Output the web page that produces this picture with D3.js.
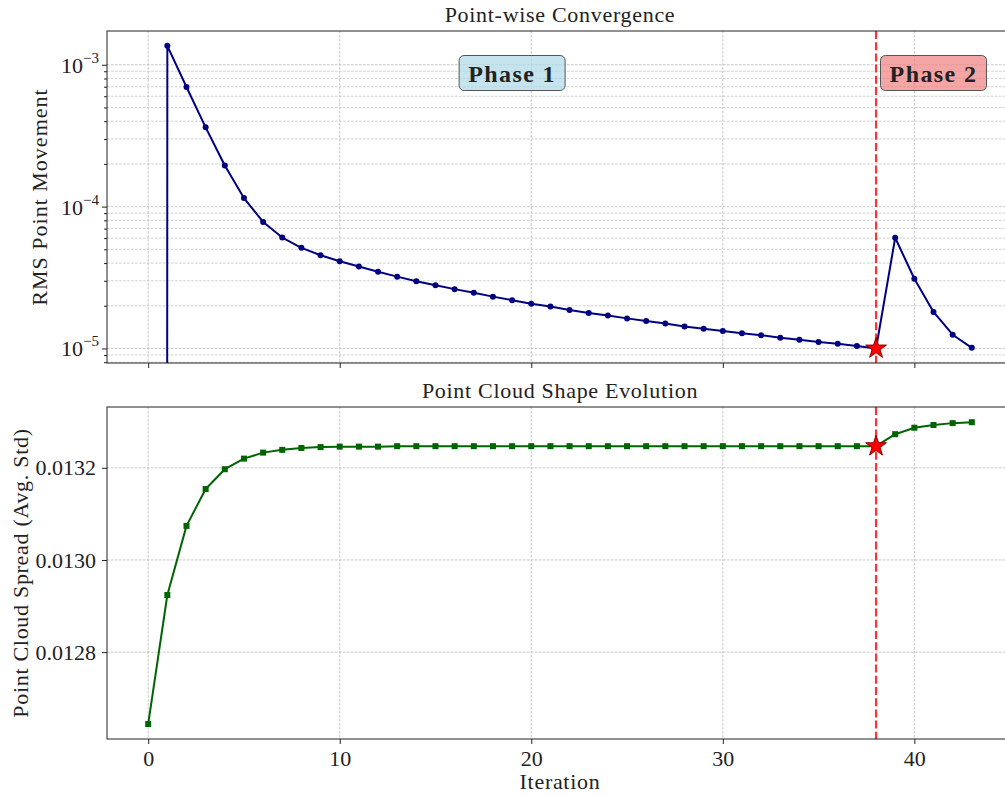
<!DOCTYPE html>
<html>
<head>
<meta charset="utf-8">
<script src="https://cdn.jsdelivr.net/npm/d3@7"></script>
<style>
  body { margin: 0; background: #fff; }
  svg text { font-family: "Liberation Serif", "DejaVu Serif", serif; fill: #222; }
  .label { letter-spacing: 0.7px; }
</style>
</head>
<body>
<svg id="chart" width="1005" height="796"></svg>
<script>
// Iteration index shared by both panels
const iterations = [0,1,2,3,4,5,6,7,8,9,10,11,12,13,14,15,16,17,18,19,20,21,
  22,23,24,25,26,27,28,29,30,31,32,33,34,35,36,37,38,39,40,41,42,43];

// RMS movement of the points per iteration (first step has no movement)
const rmsMovement = [0, 1.36e-3, 6.97e-4, 3.62e-4, 1.95e-4, 1.15e-4, 7.8e-5, 6.05e-5,
  5.12e-5, 4.54e-5, 4.12e-5, 3.78e-5, 3.47e-5, 3.21e-5, 2.98e-5, 2.79e-5, 2.62e-5,
  2.47e-5, 2.32e-5, 2.19e-5, 2.07e-5, 1.98e-5, 1.87e-5, 1.78e-5, 1.71e-5, 1.63e-5,
  1.56e-5, 1.50e-5, 1.43e-5, 1.38e-5, 1.33e-5, 1.28e-5, 1.24e-5, 1.19e-5, 1.15e-5,
  1.11e-5, 1.08e-5, 1.04e-5, 1.00e-5, 6.03e-5, 3.10e-5, 1.81e-5, 1.25e-5, 1.01e-5];

// Average standard deviation of the point cloud per iteration
const cloudSpread = [0.012644, 0.012924, 0.013074, 0.013154, 0.013197, 0.013220,
  0.013233, 0.013239, 0.013243, 0.013245, 0.013246, 0.013246, 0.013246, 0.013247,
  0.013247, 0.013247, 0.013247, 0.013247, 0.013247, 0.013247, 0.013247, 0.013247,
  0.013247, 0.013247, 0.013247, 0.013247, 0.013247, 0.013247, 0.013247, 0.013247,
  0.013247, 0.013247, 0.013247, 0.013247, 0.013247, 0.013247, 0.013247, 0.013247,
  0.013247, 0.013273, 0.013287, 0.013293, 0.013297, 0.013299];

// Iteration where the second phase starts
const phaseSwitch = 38;

const xTickValues = [0, 10, 20, 30, 40];
const rmsTickExponents = [-5, -4, -3];
const spreadTickValues = [0.0128, 0.0130, 0.0132];

const phaseNames = ["Phase 1", "Phase 2"];
const phaseCenters = [19, 41];
const phaseFills = ["#add8e6", "#f08080"];

// ---- layout ----
const L = 107, R = 1013;
const top1 = 31, bot1 = 363;
const top2 = 407, bot2 = 739;

const svg = d3.select("#chart");
const defs = svg.append("defs");

const x = d3.scaleLinear().domain([-2.15, 45.15]).range([L, R]);
const yTop = d3.scaleLog().domain([7.9e-6, 1.73e-3]).range([bot1, top1]);
const yBot = d3.scaleLinear().domain([0.0126115, 0.013332]).range([bot2, top2]);

defs.append("clipPath").attr("id", "clipTop")
  .append("rect").attr("x", L).attr("y", top1).attr("width", R - L).attr("height", bot1 - top1);
defs.append("clipPath").attr("id", "clipBot")
  .append("rect").attr("x", L).attr("y", top2).attr("width", R - L).attr("height", bot2 - top2);

const gridColor = "#b8b8b8";
const gridDash = "2.6,1.4";

// ---- top panel: grid ----
const gTop = svg.append("g");
const majorRms = rmsTickExponents.map(e => Math.pow(10, e));
const minorRms = [];
[-6, -5, -4, -3].forEach(e => {
  for (let k = 2; k <= 9; k++) {
    const v = k * Math.pow(10, e);
    if (v >= yTop.domain()[0] && v <= yTop.domain()[1]) minorRms.push(v);
  }
});

gTop.selectAll("line.hminor").data(minorRms).join("line")
  .attr("x1", L).attr("x2", R)
  .attr("y1", d => yTop(d)).attr("y2", d => yTop(d))
  .attr("stroke", gridColor).attr("stroke-width", 0.8)
  .attr("stroke-dasharray", gridDash).attr("opacity", 0.8);
gTop.selectAll("line.hmajor").data(majorRms).join("line")
  .attr("x1", L).attr("x2", R)
  .attr("y1", d => yTop(d)).attr("y2", d => yTop(d))
  .attr("stroke", gridColor).attr("stroke-width", 0.8)
  .attr("stroke-dasharray", gridDash);
gTop.selectAll("line.vgrid").data(xTickValues).join("line")
  .attr("x1", d => x(d)).attr("x2", d => x(d))
  .attr("y1", top1).attr("y2", bot1)
  .attr("stroke", gridColor).attr("stroke-width", 0.8)
  .attr("stroke-dasharray", gridDash);

// ---- bottom panel: grid ----
const gBot = svg.append("g");
gBot.selectAll("line.hgrid").data(spreadTickValues).join("line")
  .attr("x1", L).attr("x2", R)
  .attr("y1", d => yBot(d)).attr("y2", d => yBot(d))
  .attr("stroke", gridColor).attr("stroke-width", 0.8)
  .attr("stroke-dasharray", gridDash);
gBot.selectAll("line.vgrid").data(xTickValues).join("line")
  .attr("x1", d => x(d)).attr("x2", d => x(d))
  .attr("y1", top2).attr("y2", bot2)
  .attr("stroke", gridColor).attr("stroke-width", 0.8)
  .attr("stroke-dasharray", gridDash);

// ---- phase switch markers (dashed red) ----
[[top1, bot1], [top2, bot2]].forEach(([t, b]) => {
  svg.append("line")
    .attr("x1", x(phaseSwitch)).attr("x2", x(phaseSwitch))
    .attr("y1", t).attr("y2", b)
    .attr("stroke", "red").attr("stroke-opacity", 0.8)
    .attr("stroke-width", 2.2).attr("stroke-dasharray", "8,3.2");
});

// ---- top panel: data ----
const rmsData = iterations.map((it, i) => ({ it, v: rmsMovement[i] }));
const topPlot = svg.append("g").attr("clip-path", "url(#clipTop)");
topPlot.append("path")
  .datum(rmsData)
  .attr("fill", "none").attr("stroke", "navy").attr("stroke-width", 2)
  .attr("stroke-linejoin", "round")
  .attr("d", d3.line().x(d => x(d.it)).y(d => yTop(Math.max(d.v, 1e-300))));
topPlot.selectAll("circle").data(rmsData.filter(d => d.v > 0)).join("circle")
  .attr("cx", d => x(d.it)).attr("cy", d => yTop(d.v)).attr("r", 3)
  .attr("fill", "navy");

// ---- bottom panel: data ----
const spreadData = iterations.map((it, i) => ({ it, v: cloudSpread[i] }));
const botPlot = svg.append("g").attr("clip-path", "url(#clipBot)");
botPlot.append("path")
  .datum(spreadData)
  .attr("fill", "none").attr("stroke", "darkgreen").attr("stroke-width", 2)
  .attr("stroke-linejoin", "round")
  .attr("d", d3.line().x(d => x(d.it)).y(d => yBot(d.v)));
botPlot.selectAll("rect").data(spreadData).join("rect")
  .attr("x", d => x(d.it) - 3).attr("y", d => yBot(d.v) - 3)
  .attr("width", 6).attr("height", 6).attr("fill", "darkgreen");

// ---- star markers at the phase switch ----
const star = d3.symbol().type(d3.symbolStar).size(135);
svg.append("path").attr("d", star)
  .attr("transform", `translate(${x(phaseSwitch)},${yTop(rmsMovement[phaseSwitch])})`)
  .attr("fill", "red").attr("stroke", "darkred").attr("stroke-width", 1);
svg.append("path").attr("d", star)
  .attr("transform", `translate(${x(phaseSwitch)},${yBot(cloudSpread[phaseSwitch])})`)
  .attr("fill", "red").attr("stroke", "darkred").attr("stroke-width", 1);

// ---- spines ----
function spines(t, b) {
  svg.append("rect").attr("x", L).attr("y", t).attr("width", R - L).attr("height", b - t)
    .attr("fill", "none").attr("stroke", "#222").attr("stroke-width", 1);
}
spines(top1, bot1);
spines(top2, bot2);

// ---- axes ----
const tickFont = 22;
// x ticks, top panel (no labels)
svg.append("g").attr("transform", `translate(0,${bot1})`)
  .call(d3.axisBottom(x).tickValues(xTickValues).tickFormat("").tickSize(5).tickSizeOuter(0))
  .call(g => g.select(".domain").remove())
  .call(g => g.selectAll(".tick line").attr("stroke", "#222"));
// x ticks, bottom panel
svg.append("g").attr("transform", `translate(0,${bot2})`)
  .call(d3.axisBottom(x).tickValues(xTickValues).tickFormat(d3.format("d")).tickSize(5).tickPadding(6).tickSizeOuter(0))
  .call(g => g.select(".domain").remove())
  .call(g => g.selectAll(".tick line").attr("stroke", "#222"))
  .call(g => g.selectAll(".tick text").attr("font-size", tickFont)
    .attr("font-family", "Liberation Serif, serif").attr("fill", "#222"));

// y ticks, top panel (log): major with labels, minor without
svg.append("g").attr("transform", `translate(${L},0)`)
  .call(d3.axisLeft(yTop).tickValues(minorRms).tickFormat("").tickSize(3).tickSizeOuter(0))
  .call(g => g.select(".domain").remove())
  .call(g => g.selectAll(".tick line").attr("stroke", "#222"));
svg.append("g").attr("transform", `translate(${L},0)`)
  .call(d3.axisLeft(yTop).tickValues(majorRms).tickFormat("").tickSize(5).tickSizeOuter(0))
  .call(g => g.select(".domain").remove())
  .call(g => g.selectAll(".tick line").attr("stroke", "#222"));
rmsTickExponents.forEach(e => {
  const t = svg.append("text")
    .attr("x", L - 8).attr("y", yTop(Math.pow(10, e)) + 8)
    .attr("text-anchor", "end").attr("font-size", tickFont);
  t.append("tspan").text("10");
  t.append("tspan").attr("dy", -10).attr("font-size", 15).text("\u2212" + Math.abs(e));
});

// y ticks, bottom panel
svg.append("g").attr("transform", `translate(${L},0)`)
  .call(d3.axisLeft(yBot).tickValues(spreadTickValues).tickFormat(d3.format(".4f")).tickSize(5).tickPadding(6).tickSizeOuter(0))
  .call(g => g.select(".domain").remove())
  .call(g => g.selectAll(".tick line").attr("stroke", "#222"))
  .call(g => g.selectAll(".tick text").attr("font-size", tickFont)
    .attr("font-family", "Liberation Serif, serif").attr("fill", "#222"));

// ---- titles and axis labels ----
const cx = (L + R) / 2;
svg.append("text").attr("class", "label").attr("x", cx).attr("y", 22).attr("text-anchor", "middle")
  .attr("font-size", 22).text("Point-wise Convergence");
svg.append("text").attr("class", "label").attr("x", cx).attr("y", 398).attr("text-anchor", "middle")
  .attr("font-size", 22).text("Point Cloud Shape Evolution");
svg.append("text").attr("class", "label").attr("x", cx).attr("y", 789).attr("text-anchor", "middle")
  .attr("font-size", 22).text("Iteration");
svg.append("text").attr("class", "label")
  .attr("transform", `translate(47,${(top1 + bot1) / 2}) rotate(-90)`)
  .attr("text-anchor", "middle").attr("font-size", 22).style("letter-spacing", "1px")
  .text("RMS Point Movement");
svg.append("text").attr("class", "label")
  .attr("transform", `translate(28,${(top2 + bot2) / 2}) rotate(-90)`)
  .attr("text-anchor", "middle").attr("font-size", 22).text("Point Cloud Spread (Avg. Std)");

// ---- phase annotations ----
phaseNames.forEach((name, i) => {
  const g = svg.append("g").attr("transform", `translate(${x(phaseCenters[i])},73)`);
  const txt = g.append("text").attr("text-anchor", "middle").attr("y", 8.5)
    .attr("font-size", 24).attr("font-weight", "bold").attr("fill", "#111")
    .style("letter-spacing", "1.4px").text(name);
  const w = 106;
  g.insert("rect", "text")
    .attr("x", -w / 2).attr("y", -17.5).attr("width", w).attr("height", 35)
    .attr("rx", 5).attr("ry", 5)
    .attr("fill", phaseFills[i]).attr("fill-opacity", 0.7)
    .attr("stroke", "#555").attr("stroke-width", 1);
});
</script>
</body>
</html>
